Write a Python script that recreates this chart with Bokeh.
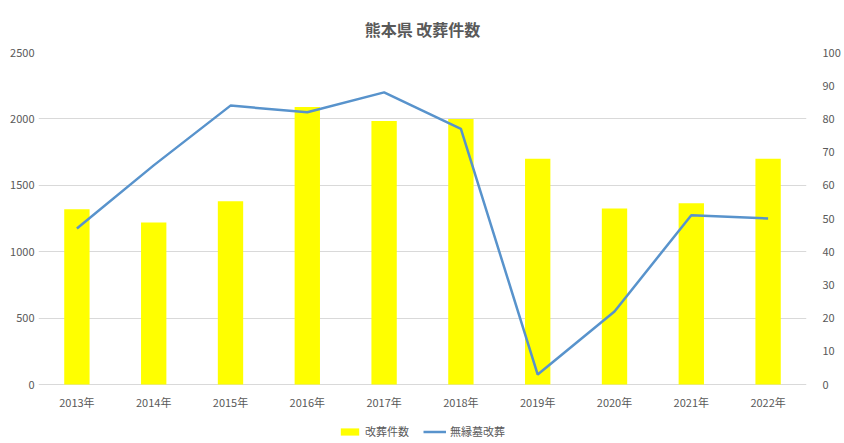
from bokeh.plotting import figure
from bokeh.models import (FactorRange, Range1d, LinearAxis, FixedTicker, Legend, LegendItem,
                          ColumnDataSource)
from bokeh.core.properties import value
from bokeh.embed import file_html
from bokeh.resources import INLINE

years = ["2013年", "2014年", "2015年", "2016年", "2017年", "2018年", "2019年", "2020年", "2021年", "2022年"]
kaisou = [1320, 1220, 1380, 2090, 1985, 2000, 1700, 1325, 1365, 1700]
muen = [47, 66, 84, 82, 88, 77, 3, 22, 51, 50]
left_ticks = [0, 500, 1000, 1500, 2000, 2500]
right_ticks = [0, 10, 20, 30, 40, 50, 60, 70, 80, 90, 100]

FONT = "Noto Sans CJK JP"
GRAY = "#595959"

# layout: plot area of the values is 332 px tall; the frame also covers the
# strip below it (59 px) that holds the category labels and the legend
VAL_H = 332
BELOW_H = 59
LEFT_MAX = 2500
RIGHT_MAX = 100
left_min = -LEFT_MAX * BELOW_H / VAL_H
right_min = -RIGHT_MAX * BELOW_H / VAL_H
label_y = -LEFT_MAX * 17 / VAL_H

src = ColumnDataSource(dict(x=years, kaisou=kaisou, muen=muen))
lab = ColumnDataSource(dict(x=years, y=[label_y] * len(years), t=years))

p = figure(frame_width=768, frame_height=VAL_H + BELOW_H, x_range=FactorRange(*years),
           y_range=Range1d(left_min, LEFT_MAX),
           output_backend="svg", toolbar_location=None,
           min_border_left=38, min_border_right=38, min_border_top=52, min_border_bottom=0)
p.extra_y_ranges = {"right": Range1d(right_min, RIGHT_MAX)}
p.x_range.range_padding = 0
p.outline_line_color = None
p.background_fill_color = "white"
p.border_fill_color = "white"

p.title.text = "熊本県 改葬件数"
p.title.align = "center"
p.title.text_font = FONT
p.title.text_font_size = "16px"
p.title.text_font_style = "bold"
p.title.text_color = GRAY
p.title.standoff = 24

bars = p.vbar(x="x", top="kaisou", width=0.33, source=src, color="#FFFF00", line_color=None)
line = p.line(x="x", y="muen", source=src, y_range_name="right", line_color="#5893CC", line_width=2.5)

p.xaxis.visible = False
p.text(x="x", y="y", text="t", source=lab, text_font=value(FONT), text_font_size="11px",
       text_color=GRAY, text_align="center", text_baseline="middle")

ya = p.yaxis[0]
ya.axis_line_color = None
ya.major_tick_line_color = None
ya.minor_tick_line_color = None
ya.major_tick_out = 0
ya.major_tick_in = 0
ya.major_label_text_font = FONT
ya.major_label_text_font_size = "11px"
ya.major_label_text_color = GRAY
ya.ticker = FixedTicker(ticks=left_ticks)
ya.major_label_standoff = 4
p.xgrid.grid_line_color = None
p.ygrid.grid_line_color = "#D9D9D9"
p.ygrid.grid_line_width = 1

ra = LinearAxis(y_range_name="right", ticker=FixedTicker(ticks=right_ticks))
ra.axis_line_color = None
ra.major_tick_line_color = None
ra.minor_tick_line_color = None
ra.major_tick_out = 0
ra.major_tick_in = 0
ra.major_label_text_font = FONT
ra.major_label_text_font_size = "11px"
ra.major_label_text_color = GRAY
ra.major_label_standoff = 16
p.add_layout(ra, "right")

legend = Legend(items=[LegendItem(label="改葬件数", renderers=[bars]),
                       LegendItem(label="無縁墓改葬", renderers=[line])],
                orientation="horizontal", location=(300, 4),
                label_text_font=FONT, label_text_font_size="11px", label_text_color=GRAY,
                border_line_color=None, background_fill_alpha=0,
                glyph_width=23, glyph_height=9, label_height=14, label_standoff=4, spacing=14,
                padding=2, margin=0)
p.add_layout(legend, "center")

open("out.html", "w").write(file_html(p, INLINE))
